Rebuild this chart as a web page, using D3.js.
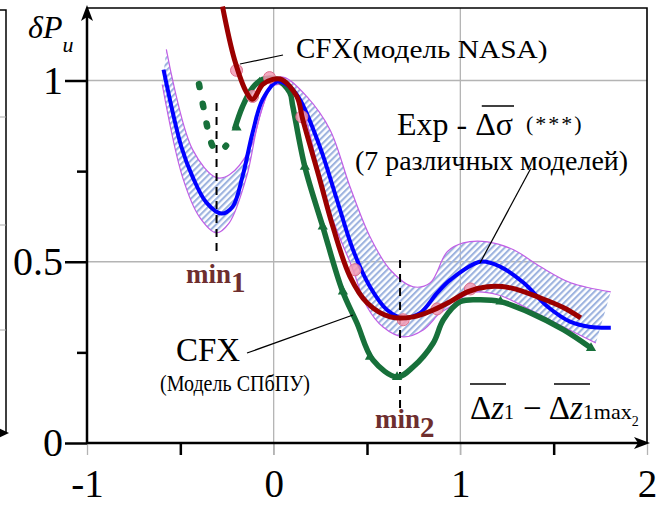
<!DOCTYPE html>
<html>
<head>
<meta charset="utf-8">
<script src="https://cdn.jsdelivr.net/npm/d3@7"></script>
<style>
  body { margin: 0; background: #fff; }
  svg text { font-family: "Liberation Serif", "DejaVu Serif", "Times New Roman", serif; }
</style>
</head>
<body>
<div id="chart"></div>
<script>
// data: [x, δPи]
const expMean = [[-0.59,1.03],[-0.495,0.818],[-0.435,0.735],[-0.36,0.663],[-0.28,0.633],[-0.22,0.652],[-0.167,0.735],[-0.113,0.856],[-0.059,0.948],[0.02,0.997],[0.08,0.985],[0.14,0.948],[0.247,0.818],[0.339,0.671],[0.425,0.533],[0.516,0.431],[0.608,0.367],[0.694,0.345],[0.785,0.359],[0.876,0.414],[0.946,0.45],[1.108,0.5],[1.215,0.486],[1.339,0.442],[1.468,0.376],[1.591,0.334],[1.699,0.32],[1.806,0.318]]
const bandUpper = [[-0.575,1.086],[-0.435,0.81],[-0.306,0.732],[-0.237,0.74],[-0.129,0.81],[-0.059,0.928],[0.0,1.003],[0.06,1.008],[0.177,0.956],[0.301,0.865],[0.409,0.707],[0.516,0.569],[0.624,0.478],[0.747,0.431],[0.839,0.442],[0.93,0.528],[1.016,0.552],[1.145,0.555],[1.285,0.533],[1.43,0.486],[1.591,0.442],[1.806,0.417]]
const bandLower = [[-0.597,0.989],[-0.489,0.735],[-0.398,0.624],[-0.306,0.58],[-0.237,0.608],[-0.145,0.735],[-0.075,0.9],[-0.005,0.985],[0.06,0.985],[0.14,0.939],[0.231,0.773],[0.317,0.616],[0.419,0.486],[0.5,0.376],[0.586,0.32],[0.694,0.293],[0.801,0.312],[0.892,0.359],[0.946,0.376],[1.054,0.414],[1.199,0.409],[1.376,0.367],[1.554,0.32],[1.726,0.276]]
const spbpuDotted = [[-0.40,0.99],[-0.372,0.915],[-0.348,0.855],[-0.322,0.815],[-0.29,0.805],[-0.255,0.82]]
const spbpu = [[-0.21,0.865],[-0.167,0.928],[-0.113,0.98],[-0.059,1.003],[0.016,1.003],[0.086,0.967],[0.102,0.93],[0.167,0.762],[0.263,0.597],[0.366,0.423],[0.446,0.331],[0.532,0.229],[0.661,0.182],[0.747,0.21],[0.855,0.276],[0.909,0.34],[1.0,0.39],[1.108,0.395],[1.215,0.39],[1.376,0.359],[1.554,0.312],[1.70,0.262]]
const spbpuMarks = [[-0.199,0.87],[-0.075,0.994],[0.167,0.762],[0.263,0.597],[0.371,0.418],[0.516,0.238],[0.661,0.182],[1.215,0.39],[1.70,0.262]]
const nasa = [[-0.274,1.204],[-0.21,1.058],[-0.145,0.967],[-0.113,0.948],[-0.059,0.989],[-0.005,1.003],[0.043,1.003],[0.124,0.956],[0.156,0.892],[0.247,0.727],[0.317,0.597],[0.409,0.459],[0.5,0.387],[0.624,0.348],[0.747,0.348],[0.855,0.367],[0.946,0.39],[1.038,0.417],[1.145,0.431],[1.269,0.428],[1.43,0.40],[1.554,0.373],[1.645,0.345]]
const nasaMarks = [[-0.199,1.028],[-0.113,0.956],[-0.022,1.008],[0.151,0.9],[0.435,0.478],[0.694,0.34],[0.876,0.37],[1.054,0.425]]
const min1 = -0.306, min2 = 0.677
const xMajor = [-1, 0, 1, 2]
const xMinor = [-0.5, 0.5, 1.5]
const yMajor = [0, 0.5, 1]
const yMinor = [0.25, 0.75]
const yLabels = {0: '0', 0.5: '0.5', 1: '1'}

const W = 670, H = 506
const FONT = '"Liberation Serif", "DejaVu Serif", "Times New Roman", serif'
const svg = d3.select('#chart').append('svg').attr('width', W).attr('height', H).attr('font-family', FONT)

const x = d3.scaleLinear().domain([-1, 2]).range([87, 647])
const y = d3.scaleLinear().domain([0, 1.2]).range([443, 8])

// pattern for the hatched band
const defs = svg.append('defs')
defs.append('pattern')
  .attr('id', 'hatch')
  .attr('patternUnits', 'userSpaceOnUse')
  .attr('width', 4.5).attr('height', 4.5)
  .attr('patternTransform', 'rotate(45)')
  .append('line')
  .attr('x1', 1).attr('y1', 0).attr('x2', 1).attr('y2', 4.5)
  .attr('stroke', '#9db3df').attr('stroke-width', 2.2)

// leftover frame of the neighbouring chart
svg.append('path').attr('d', 'M0,10H6V433').attr('fill', 'none').attr('stroke', '#000').attr('stroke-width', 1.5)
svg.append('path').attr('d', 'M-4,427L9,433L-4,439Z').attr('fill', '#000')
;[117, 225, 330].forEach(v => svg.append('line').attr('x1', 0).attr('x2', 6).attr('y1', v).attr('y2', v).attr('stroke', '#aaa'))

// grid
svg.append('g').selectAll('line').data([0, 1]).join('line')
  .attr('x1', d => x(d)).attr('x2', d => x(d)).attr('y1', y(1.2)).attr('y2', 455)
  .attr('stroke', '#b4b4b4').attr('stroke-width', 1.3)
svg.append('g').selectAll('line').data([0.5, 1]).join('line')
  .attr('x1', x(-1)).attr('x2', x(2)).attr('y1', d => y(d)).attr('y2', d => y(d))
  .attr('stroke', '#b4b4b4').attr('stroke-width', 1.3)

// axes
const xAxis = svg.append('g').attr('transform', `translate(0,${y(0)})`)
  .call(d3.axisBottom(x).tickValues(xMajor).tickSize(12).tickPadding(14).tickFormat(d => String(d)))
xAxis.attr('font-family', FONT).select('.domain').remove()
xAxis.selectAll('line').attr('stroke', '#b4b4b4').attr('stroke-width', 1.3)
xAxis.selectAll('text').attr('font-size', 39).attr('fill', '#000')
const xAxisMinor = svg.append('g').attr('transform', `translate(0,${y(0)})`)
  .call(d3.axisBottom(x).tickValues(xMinor).tickSize(12).tickFormat(''))
xAxisMinor.select('.domain').remove()
xAxisMinor.selectAll('line').attr('stroke', '#000').attr('stroke-width', 2.5)

const yAxis = svg.append('g').attr('transform', `translate(${x(-1)},0)`)
  .call(d3.axisLeft(y).tickValues(yMajor).tickSize(22).tickPadding(2).tickFormat(d => yLabels[d]))
yAxis.attr('font-family', FONT).select('.domain').remove()
yAxis.selectAll('line').attr('stroke', '#000').attr('stroke-width', 2.5)
yAxis.selectAll('text').attr('font-size', 40).attr('fill', '#000')
const yAxisMinor = svg.append('g').attr('transform', `translate(${x(-1)},0)`)
  .call(d3.axisLeft(y).tickValues(yMinor).tickSize(10).tickFormat(''))
yAxisMinor.select('.domain').remove()
yAxisMinor.selectAll('line').attr('stroke', '#000').attr('stroke-width', 2.5)

// frame and axis lines with arrows
svg.append('path').attr('d', `M${x(-1)},${y(1.2)}H${x(2)}V${y(0)}`).attr('fill', 'none').attr('stroke', '#000').attr('stroke-width', 1.6)
svg.append('line').attr('x1', x(-1)).attr('x2', x(-1)).attr('y1', y(0)).attr('y2', 12).attr('stroke', '#000').attr('stroke-width', 2.5)
svg.append('line').attr('x1', x(-1)).attr('x2', x(2) - 4).attr('y1', y(0)).attr('y2', y(0)).attr('stroke', '#000').attr('stroke-width', 2.5)
svg.append('path').attr('d', `M${x(-1)},5L${x(-1) - 6},21L${x(-1)},17L${x(-1) + 6},21Z`).attr('fill', '#000')
svg.append('path').attr('d', `M${x(2) + 3},${y(0)}L${x(2) - 13},${y(0) - 6}L${x(2) - 9},${y(0)}L${x(2) - 13},${y(0) + 6}Z`).attr('fill', '#000')

// curves
const line = d3.line().x(d => x(d[0])).y(d => y(d[1])).curve(d3.curveCatmullRom.alpha(0.5))

const upPath = line(bandUpper)
const loPath = line(bandLower.slice().reverse())
svg.append('path').attr('d', upPath + 'L' + loPath.slice(1) + 'Z').attr('fill', 'url(#hatch)')
svg.append('path').attr('d', upPath).attr('fill', 'none').attr('stroke', '#c25ee6').attr('stroke-width', 1.2)
svg.append('path').attr('d', line(bandLower)).attr('fill', 'none').attr('stroke', '#c25ee6').attr('stroke-width', 1.2)

// dashed minimum markers
svg.append('line').attr('x1', x(min1)).attr('x2', x(min1)).attr('y1', 103).attr('y2', 256)
  .attr('stroke', '#000').attr('stroke-width', 2).attr('stroke-dasharray', '8,6')
svg.append('line').attr('x1', x(min2)).attr('x2', x(min2)).attr('y1', 260).attr('y2', 410)
  .attr('stroke', '#000').attr('stroke-width', 2).attr('stroke-dasharray', '8,6')

const green = '#17703a'
svg.append('path').attr('d', line(spbpuDotted)).attr('fill', 'none').attr('stroke', green)
  .attr('stroke-width', 6.5).attr('stroke-linecap', 'round').attr('stroke-dasharray', '3,17')
svg.append('path').attr('d', line(spbpu)).attr('fill', 'none').attr('stroke', green).attr('stroke-width', 5.5)
svg.append('g').selectAll('path').data(spbpuMarks).join('path')
  .attr('transform', d => `translate(${x(d[0])},${y(d[1])})`)
  .attr('d', d3.symbol(d3.symbolTriangle, 45)).attr('fill', green)

svg.append('path').attr('d', line(expMean)).attr('fill', 'none').attr('stroke', '#0000ff').attr('stroke-width', 4)

svg.append('g').selectAll('circle').data(nasaMarks).join('circle')
  .attr('cx', d => x(d[0])).attr('cy', d => y(d[1])).attr('r', 6)
  .attr('fill', '#f29ab4').attr('fill-opacity', 0.85).attr('stroke', '#e0708e').attr('stroke-width', 1)
svg.append('path').attr('d', line(nasa)).attr('fill', 'none').attr('stroke', '#9b0000').attr('stroke-width', 5)

// leader lines
const leaders = [[240, 64, 283, 55], [531, 168, 480, 263], [247, 353, 353, 315]]
svg.append('g').selectAll('line').data(leaders).join('line')
  .attr('x1', d => d[0]).attr('y1', d => d[1]).attr('x2', d => d[2]).attr('y2', d => d[3])
  .attr('stroke', '#000').attr('stroke-width', 1.2)

// texts
const yl = svg.append('text').attr('x', 28).attr('y', 38).attr('font-style', 'italic')
yl.append('tspan').attr('font-size', 32).text('δP')
yl.append('tspan').attr('font-size', 22).attr('dy', 14).text('и')

const t1 = svg.append('text').attr('x', 296).attr('y', 58)
t1.append('tspan').attr('font-size', 29).text('CFX')
t1.append('tspan').attr('font-size', 25).attr('textLength', 195).attr('lengthAdjust', 'spacingAndGlyphs').text('(модель NASA)')

const t2 = svg.append('text').attr('x', 397).attr('y', 135).attr('font-size', 32)
t2.append('tspan').text('Exp - Δ')
t2.append('tspan').attr('id', 'sig').text('σ')
t2.append('tspan').attr('font-size', 22).attr('dx', 13).attr('dy', -4).attr('letter-spacing', 2).text('(***)')
const sig = document.getElementById('sig').getBBox()
svg.append('line').attr('x1', sig.x - 14).attr('x2', sig.x + sig.width + 1).attr('y1', 106).attr('y2', 106).attr('stroke', '#000').attr('stroke-width', 1.5)

svg.append('text').attr('x', 355).attr('y', 170).attr('font-size', 27)
  .attr('textLength', 273).attr('lengthAdjust', 'spacingAndGlyphs').text('(7 различных моделей)')

const brown = '#6e2e2e'
const m1 = svg.append('text').attr('x', 186).attr('y', 283).attr('font-weight', 'bold').attr('fill', brown)
m1.append('tspan').attr('font-size', 27).text('min')
m1.append('tspan').attr('font-size', 29).attr('dy', 9).text('1')
const m2 = svg.append('text').attr('x', 375).attr('y', 428).attr('font-weight', 'bold').attr('fill', brown)
m2.append('tspan').attr('font-size', 27).text('min')
m2.append('tspan').attr('font-size', 29).attr('dy', 9).text('2')

svg.append('text').attr('x', 176).attr('y', 361).attr('font-size', 33).text('CFX')
svg.append('text').attr('x', 160).attr('y', 391).attr('font-size', 23)
  .attr('textLength', 150).attr('lengthAdjust', 'spacingAndGlyphs').text('(Модель СПбПУ)')

// x axis label
const xl = svg.append('text').attr('x', 470).attr('y', 419)
xl.append('tspan').attr('font-size', 33).text('Δ')
xl.append('tspan').attr('font-size', 33).attr('font-style', 'italic').text('z')
xl.append('tspan').attr('font-size', 20).text('1')
xl.append('tspan').attr('font-size', 33).attr('dx', 9).text('−')
xl.append('tspan').attr('font-size', 33).attr('dx', 7).text('Δ')
xl.append('tspan').attr('font-size', 33).attr('font-style', 'italic').text('z')
xl.append('tspan').attr('font-size', 22).text('1max')
xl.append('tspan').attr('font-size', 14).attr('dy', 7).text('2')
svg.append('line').attr('x1', 470).attr('x2', 506).attr('y1', 384).attr('y2', 384).attr('stroke', '#000').attr('stroke-width', 1.5)
svg.append('line').attr('x1', 554).attr('x2', 590).attr('y1', 384).attr('y2', 384).attr('stroke', '#000').attr('stroke-width', 1.5)
</script>
</body>
</html>
